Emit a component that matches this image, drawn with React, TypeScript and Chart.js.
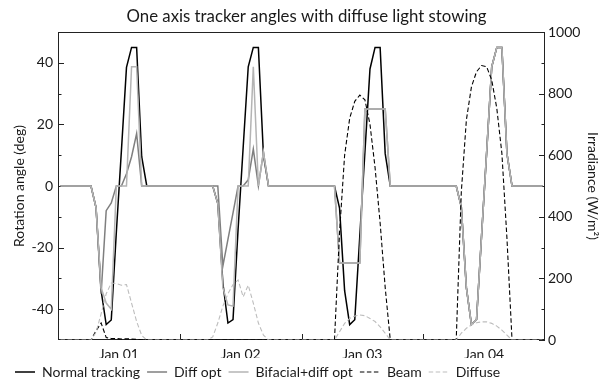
import React, { useEffect, useRef } from 'react';
import { Chart, registerables } from 'chart.js';

Chart.register(...registerables);

// ---- data (hourly, Jan 01 00:00 .. Jan 04 23:00; samples at hh:30) ----
const dayLabels = ['Jan 01', 'Jan 02', 'Jan 03', 'Jan 04'];
const labelHours = [12, 36, 60, 84];
const midnightHours = [24, 48, 72];
const angleTicks = [-40, -20, 0, 20, 40];
const angleMinorTicks = [-30, -10, 10, 30];
const irrTicks = [0, 200, 400, 600, 800, 1000];
const irrMinorTicks = [100, 300, 500, 700, 900];

const normalTracking = [
  0, 0, 0, 0, 0, 0, 0, -7, -34, -45, -43.5, -15, 11.5, 38.5, 45, 45, 9.5, 0, 0, 0, 0, 0, 0, 0,
  0, 0, 0, 0, 0, 0, 0, -5.7, -31.5, -44.5, -43.4, -14, 12.5, 38.7, 45, 45, 10, 0, 0, 0, 0, 0, 0, 0,
  0, 0, 0, 0, 0, 0, 0, -7.2, -34, -45, -43.4, -16, 11, 38, 45, 45, 10.5, 0, 0, 0, 0, 0, 0, 0,
  0, 0, 0, 0, 0, 0, 0, -6.8, -33, -45, -43.4, -16, 11, 38.7, 45, 45, 10.5, 0, 0, 0, 0, 0, 0, 0,
];
const diffOpt = [
  0, 0, 0, 0, 0, 0, 0, -7, -35, -8, -5.5, 0, 0, 4, 9.5, 17, 0, 0, 0, 0, 0, 0, 0, 0,
  0, 0, 0, 0, 0, 0, 0, 0, -26, -17.3, -8.7, 0, 0, 2, 12, 0, 11, 0, 0, 0, 0, 0, 0, 0,
  0, 0, 0, 0, 0, 0, 0, -25, -25, -25, -25, -25, 25, 25, 25, 25, 25, 0, 0, 0, 0, 0, 0, 0,
  0, 0, 0, 0, 0, 0, 0, -6.8, -33, -45, -43.4, -16, 11, 38.7, 45, 45, 10.5, 0, 0, 0, 0, 0, 0, 0,
];
const bifacialDiffOpt = [
  0, 0, 0, 0, 0, 0, 0, -7, -33, -38, -40, 0, 0, 0, 38.7, 38.7, 0, 0, 0, 0, 0, 0, 0, 0,
  0, 0, 0, 0, 0, 0, 0, -5.7, -33, -38.6, -39, 0, 0, 0, 38.7, 0, 11, 0, 0, 0, 0, 0, 0, 0,
  0, 0, 0, 0, 0, 0, 0, -25, -25, -25, -25, -25, 25, 25, 25, 25, 25, 0, 0, 0, 0, 0, 0, 0,
  0, 0, 0, 0, 0, 0, 0, -6.8, -33, -45, -43.4, -16, 11, 38.7, 45, 45, 10.5, 0, 0, 0, 0, 0, 0, 0,
];
const beam = [
  0, 0, 0, 0, 0, 0, 0, 30, 55, 8, 5, 5, 3, 4, 3, 2, 0, 0, 0, 0, 0, 0, 0, 0,
  0, 0, 0, 0, 0, 0, 0, 0, 0, 0, 0, 0, 0, 0, 0, 0, 0, 0, 0, 0, 0, 0, 0, 0,
  0, 0, 0, 0, 0, 0, 0, 350, 600, 720, 775, 795, 780, 700, 560, 380, 170, 0, 0, 0, 0, 0, 0, 0,
  0, 0, 0, 0, 0, 0, 0, 480, 714, 822, 871, 891, 887, 844, 752, 606, 330, 0, 0, 0, 0, 0, 0, 0,
];
const diffuse = [
  0, 0, 0, 0, 0, 0, 0, 25, 85, 150, 185, 183, 178, 180, 120, 60, 15, 0, 0, 0, 0, 0, 0, 0,
  0, 0, 0, 0, 0, 0, 10, 55, 110, 150, 180, 195, 140, 178, 120, 55, 16, 0, 0, 0, 0, 0, 0, 0,
  0, 0, 0, 0, 0, 0, 0, 27, 54, 70, 78, 81, 79, 70, 60, 43, 22, 0, 0, 0, 0, 0, 0, 0,
  0, 0, 0, 0, 0, 0, 0, 22, 38, 49, 56, 59, 59, 54, 45, 32, 16, 0, 0, 0, 0, 0, 0, 0,
];
const sampleHours = normalTracking.map((_, i) => i + 0.5);

const FONT = 'Lato, "DejaVu Sans", sans-serif';
const TEXT = '#1a1a1a';
const AXIS = '#222222';

const toPoints = (values: number[]) => values.map((v, i) => ({ x: sampleHours[i], y: v }));

const framePlugin = {
  id: 'axesFrame',
  beforeDatasetsDraw(chart: any) {
    const { ctx, chartArea: a, scales } = chart;
    const major = 6;
    const minor = 3.5;
    ctx.save();
    ctx.strokeStyle = AXIS;
    ctx.lineWidth = 1;
    ctx.strokeRect(a.left + 0.5, a.top + 0.5, a.right - a.left - 1, a.bottom - a.top - 1);
    ctx.beginPath();
    const yl = scales.y;
    const yr = scales.y1;
    const xs = scales.x;
    angleTicks.forEach((v) => {
      const p = Math.round(yl.getPixelForValue(v)) + 0.5;
      ctx.moveTo(a.left, p);
      ctx.lineTo(a.left + major, p);
    });
    angleMinorTicks.forEach((v) => {
      const p = Math.round(yl.getPixelForValue(v)) + 0.5;
      ctx.moveTo(a.left, p);
      ctx.lineTo(a.left + minor, p);
    });
    irrTicks.forEach((v) => {
      const p = Math.round(yr.getPixelForValue(v)) + 0.5;
      ctx.moveTo(a.right, p);
      ctx.lineTo(a.right - major, p);
    });
    irrMinorTicks.forEach((v) => {
      const p = Math.round(yr.getPixelForValue(v)) + 0.5;
      ctx.moveTo(a.right, p);
      ctx.lineTo(a.right - minor, p);
    });
    midnightHours.forEach((v) => {
      const p = Math.round(xs.getPixelForValue(v)) + 0.5;
      ctx.moveTo(p, a.bottom);
      ctx.lineTo(p, a.bottom - major);
    });
    ctx.stroke();
    ctx.restore();
  },
};

export default function App() {
  const canvasRef = useRef<HTMLCanvasElement | null>(null);

  useEffect(() => {
    const canvas = canvasRef.current;
    if (!canvas) return;
    const chart = new Chart(canvas, {
      type: 'line',
      data: {
        datasets: [
          { label: 'Normal tracking', data: toPoints(normalTracking), yAxisID: 'y', borderColor: '#000000', backgroundColor: '#000000', borderWidth: 1.5, pointRadius: 0, order: 5 },
          { label: 'Diff opt', data: toPoints(diffOpt), yAxisID: 'y', borderColor: '#7f7f7f', backgroundColor: '#7f7f7f', borderWidth: 1.5, pointRadius: 0, order: 4 },
          { label: 'Bifacial+diff opt', data: toPoints(bifacialDiffOpt), yAxisID: 'y', borderColor: '#b4b4b4', backgroundColor: '#b4b4b4', borderWidth: 1.5, pointRadius: 0, order: 3 },
          { label: 'Beam', data: toPoints(beam), yAxisID: 'y1', borderColor: '#000000', backgroundColor: '#000000', borderWidth: 1.1, borderDash: [4.5, 2.5], pointRadius: 0, order: 2 },
          { label: 'Diffuse', data: toPoints(diffuse), yAxisID: 'y1', borderColor: '#bdbdbd', backgroundColor: '#bdbdbd', borderWidth: 1.1, borderDash: [4.5, 2.5], pointRadius: 0, order: 1 },
        ],
      },
      options: {
        responsive: false,
        animation: false,
        layout: { padding: { left: 8, right: 0, top: 0, bottom: -8 } },
        plugins: {
          title: {
            display: true,
            text: 'One axis tracker angles with diffuse light stowing',
            color: TEXT,
            font: { family: FONT, size: 16.8, weight: 'normal', lineHeight: '20px' },
            padding: { top: 7, bottom: 5 },
          },
          legend: {
            position: 'bottom',
            align: 'start',
            labels: {
              usePointStyle: true,
              pointStyle: 'line',
              pointStyleWidth: 20,
              padding: 7,
              color: TEXT,
              font: { family: FONT, size: 14 },
              sort: (a: any, b: any) => a.datasetIndex - b.datasetIndex,
              generateLabels: (c: any) => {
                const items = Chart.defaults.plugins.legend.labels.generateLabels(c);
                return items.map((it: any) => {
                  const ds = c.data.datasets[it.datasetIndex];
                  return { ...it, lineDash: ds.borderDash || [], lineWidth: ds.borderWidth, strokeStyle: ds.borderColor, pointStyle: 'line' };
                });
              },
            },
          },
          tooltip: { enabled: false },
        },
        scales: {
          x: {
            type: 'linear',
            min: 0,
            max: 96,
            grid: { display: false, drawTicks: false },
            border: { display: false },
            ticks: {
              padding: 6,
              color: TEXT,
              font: { family: FONT, size: 14 },
              maxRotation: 0,
              autoSkip: false,
              callback: (_v: any, i: number) => dayLabels[i],
            },
            afterBuildTicks: (s: any) => { s.ticks = labelHours.map((v) => ({ value: v })); },
            afterFit: (s: any) => { s.height = 18; },
          },
          y: {
            position: 'left',
            min: -50,
            max: 50,
            grid: { display: false, drawTicks: false },
            border: { display: false },
            ticks: { padding: 5, color: TEXT, font: { family: FONT, size: 14 }, callback: (v: any) => String(v) },
            afterBuildTicks: (s: any) => { s.ticks = angleTicks.map((v) => ({ value: v })); },
            title: { display: true, text: 'Rotation angle (deg)', color: TEXT, font: { family: FONT, size: 14 }, padding: { top: 3, bottom: 0 } },
            afterFit: (s: any) => { s.width = 50; },
          },
          y1: {
            position: 'right',
            min: 0,
            max: 1000,
            grid: { display: false, drawTicks: false },
            border: { display: false },
            ticks: { padding: 3, color: TEXT, font: { family: FONT, size: 14 }, callback: (v: any) => String(v) },
            afterBuildTicks: (s: any) => { s.ticks = irrTicks.map((v) => ({ value: v })); },
            title: { display: true, text: 'Irradiance (W/m²)', color: TEXT, font: { family: FONT, size: 14 }, padding: { top: 4, bottom: 0 } },
            afterFit: (s: any) => { s.width = 60; },
          },
        },
      },
      plugins: [framePlugin],
    } as any);
    return () => chart.destroy();
  }, []);

  return (
    <div style={{ position: 'fixed', left: 0, top: 0, width: 605, height: 381, background: '#ffffff' }}>
      <canvas ref={canvasRef} width={605} height={381} style={{ display: 'block' }} />
    </div>
  );
}
